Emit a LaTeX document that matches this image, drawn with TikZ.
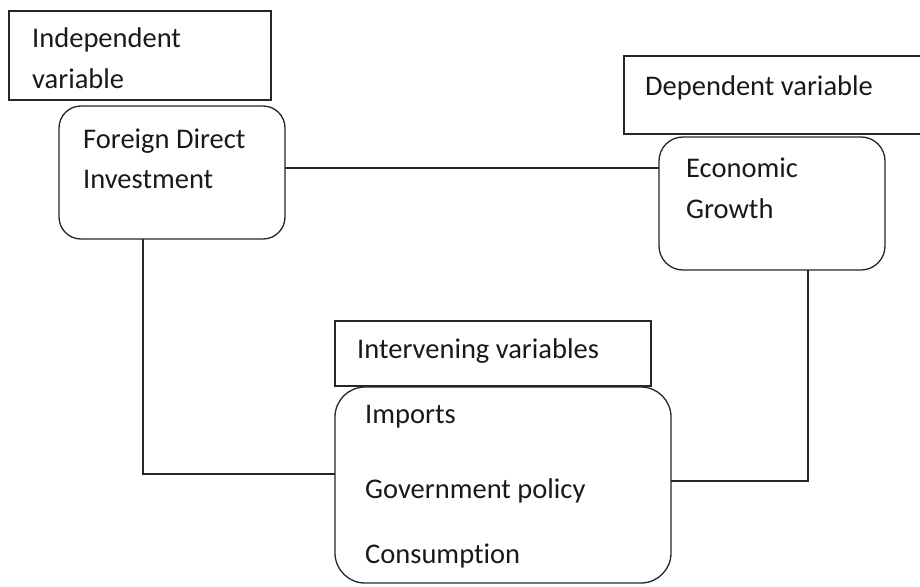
\documentclass[tikz,border=0pt]{standalone}
\usepackage{fontspec}
\setmainfont[Ligatures={NoCommon}]{Carlito}
\begin{document}
\begin{tikzpicture}[x=1pt,y=-1pt,
  box/.style={draw=black!85,line width=1.3pt,inner sep=0pt,outer sep=0pt},
  rbox/.style={box,rounded corners=#1},
  lbl/.style={anchor=base west,inner sep=0pt,text=black!90,font=\fontsize{28.5}{40}\selectfont},
  conn/.style={draw=black!85,line width=1.3pt}]
\useasboundingbox (0,0) rectangle (920,586);
\clip (0,0) rectangle (920,586);
% boxes
\node[box,minimum width=262pt,minimum height=89pt] (indep) at (140,55.5) {};
\node[rbox=22pt,minimum width=226pt,minimum height=133pt] (fdi) at (172,172.5) {};
\node[box,minimum width=301pt,minimum height=78pt] (dep) at (774.5,95) {};
\node[rbox=24pt,minimum width=226pt,minimum height=133pt] (eg) at (772,203.5) {};
\node[box,minimum width=316pt,minimum height=65pt] (ivlab) at (493,353.5) {};
\node[rbox=30pt,minimum width=336pt,minimum height=196pt] (iv) at (503,485) {};
% texts
\node[lbl] (t1) at (32,48) {Independent};
\node[lbl] (t2) at (32,88) {variable};
\node[lbl] (t3) at (83,148) {Foreign Direct};
\node[lbl] (t4) at (83,188) {Investment};
\node[lbl] (t5) at (645,95) {Dependent variable};
\node[lbl] (t6) at (686,177) {Economic};
\node[lbl] (t7) at (686,218) {Growth};
\node[lbl] (t8) at (357,358) {Intervening variables};
\node[lbl] (t9) at (365,423) {Imports};
\node[lbl] (t10) at (365,498) {Government policy};
\node[lbl] (t11) at (365,563) {Consumption};
% connectors
\draw[conn] (fdi.east |- 0,168) -- (eg.west |- 0,168);
\draw[conn] (fdi.south -| 143,0) |- (iv.west |- 0,474);
\draw[conn] (eg.south -| 808,0) |- (iv.east |- 0,481);
\end{tikzpicture}
\end{document}
